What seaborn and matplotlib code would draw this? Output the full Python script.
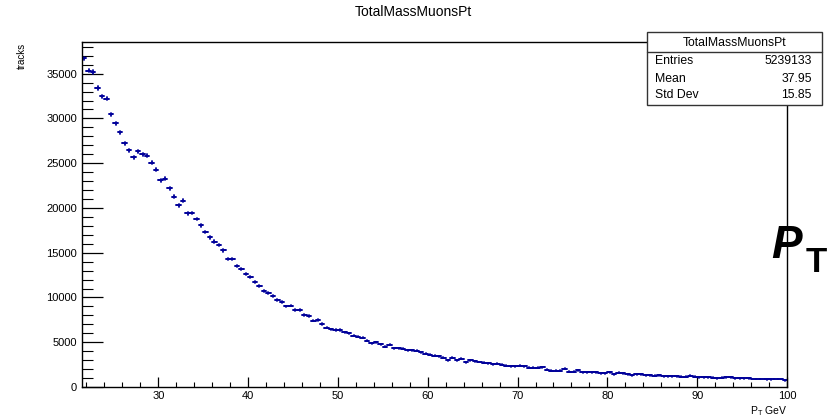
import numpy as np
import pandas as pd
import matplotlib
matplotlib.use("Agg")
import matplotlib.pyplot as plt
from matplotlib.patches import Rectangle
from matplotlib.lines import Line2D
from matplotlib.ticker import MultipleLocator
import seaborn as sns

# ---------------- data ----------------
title = "TotalMassMuonsPt"
bin_low = 21.5
bin_width = 0.5
counts = [
    36700, 35350, 35200, 33400, 32450, 32200, 30450, 29450, 28450, 27200,
    26450, 25650, 26350, 26000, 25850, 25050, 24250, 23100, 23250, 22200,
    21250, 20300, 20800, 19400, 19450, 18750, 18050, 17300, 16700, 16250,
    15900, 15250, 14250, 14300, 13500, 13200, 12600, 12300, 11750, 11250,
    10750, 10500, 10150, 9750, 9500, 9000, 9100, 8580, 8620, 8010,
    7950, 7420, 7500, 7010, 6640, 6450, 6380, 6380, 6120, 6000,
    5750, 5640, 5520, 5190, 4860, 5000, 4780, 4520, 4740, 4330,
    4330, 4260, 4110, 4110, 4040, 3880, 3700, 3590, 3510, 3440,
    3260, 2990, 3260, 2990, 3180, 2770, 2990, 2900, 2790, 2710,
    2640, 2560, 2620, 2510, 2400, 2290, 2290, 2400, 2290, 2140,
    2140, 2140, 2210, 1950, 1840, 1840, 1840, 2030, 1730, 1730,
    1880, 1650, 1650, 1650, 1650, 1510, 1510, 1650, 1400, 1590,
    1510, 1400, 1320, 1400, 1400, 1320, 1320, 1250, 1320, 1200,
    1200, 1200, 1200, 1140, 1140, 1250, 1140, 1090, 1090, 1090,
    1030, 950, 1060, 1090, 1090, 950, 950, 950, 950, 870,
    870, 870, 840, 840, 910, 900, 730,
]
stats_labels = ["Entries", "Mean", "Std Dev"]
stats_values = ["5239133", "37.95", "15.85"]
x_max = 100
y_label = "tracks"
x_label = r"P$_{\mathrm{T}}$ GeV"

# ---------------- style ----------------
sns.set_theme(style="white")
plt.rcParams["font.family"] = ["Liberation Sans", "DejaVu Sans"]
plt.rcParams["text.color"] = "black"
plt.rcParams["mathtext.fontset"] = "custom"
plt.rcParams["mathtext.rm"] = "Liberation Sans"
plt.rcParams["mathtext.it"] = "Liberation Sans:italic"
plt.rcParams["mathtext.bf"] = "Liberation Sans:bold"

W, H = 827, 419
fig = plt.figure(figsize=(W / 100, H / 100), dpi=100)
fig.patch.set_facecolor("white")

L, R, T, B = 82, 787, 42, 387
ax = fig.add_axes([L / W, (H - B) / H, (R - L) / W, (B - T) / H])
ax.set_facecolor("white")

color = "#00009a"
counts_arr = np.array(counts, dtype=float)
n = len(counts_arr)
lo = bin_low + bin_width * np.arange(n)
hi = lo + bin_width
ctr = lo + bin_width / 2
err = np.sqrt(counts_arr)

df_h = pd.DataFrame({
    "x": np.column_stack([lo, hi]).ravel(),
    "y": np.repeat(counts_arr, 2),
    "bin": np.repeat(np.arange(n), 2),
})
df_v = pd.DataFrame({
    "x": np.repeat(ctr, 2),
    "y": np.column_stack([counts_arr - err, counts_arr + err]).ravel(),
    "bin": np.repeat(np.arange(n), 2),
})
sns.lineplot(data=df_h, x="x", y="y", units="bin", estimator=None, sort=False,
             color=color, lw=1.4, ax=ax, legend=False)
sns.lineplot(data=df_v, x="x", y="y", units="bin", estimator=None, sort=False,
             color=color, lw=1.3, ax=ax, legend=False)

ax.set_xlim(bin_low, x_max)
ax.set_ylim(0, 1.05 * counts_arr.max())
ax.set_xlabel("")
ax.set_ylabel("")

for s in ax.spines.values():
    s.set_color("black")
    s.set_linewidth(1.0)

ax.xaxis.set_major_locator(MultipleLocator(10))
ax.xaxis.set_minor_locator(MultipleLocator(2))
ax.yaxis.set_major_locator(MultipleLocator(5000))
ax.yaxis.set_minor_locator(MultipleLocator(1000))
ax.tick_params(axis="x", which="major", direction="in", length=7.2, width=0.9,
               labelsize=8, pad=3, colors="black", bottom=True, top=False)
ax.tick_params(axis="x", which="minor", direction="in", length=3.6, width=0.8,
               bottom=True, top=False, colors="black")
ax.tick_params(axis="y", which="major", direction="in", length=15, width=0.9,
               labelsize=8, pad=3.5, colors="black", left=True, right=False)
ax.tick_params(axis="y", which="minor", direction="in", length=8, width=0.8,
               left=True, right=False, colors="black")

# ---------------- texts ----------------
def fx(px):
    return px / W

def fy(py):
    return 1 - py / H

fig.text(0.5, fy(12), title, ha="center", va="center", fontsize=10, color="black")
fig.text(fx(22), fy(43), y_label, rotation=90, ha="center", va="top", fontsize=7,
         color="black")
fig.text(fx(787), fy(411), x_label, ha="right", va="center", fontsize=7.5, color="black")

fig.text(fx(771), fy(258), "P", fontsize=33, fontweight="bold", fontstyle="italic",
         ha="left", va="baseline", zorder=10, color="black")
fig.text(fx(806), fy(272), "T", fontsize=25, fontweight="bold",
         ha="left", va="baseline", zorder=10, color="black")

# stats box
bx0, by0, bx1, by1 = 647, 32, 822, 105
box = Rectangle((fx(bx0), fy(by1)), (bx1 - bx0) / W, (by1 - by0) / H,
                transform=fig.transFigure, facecolor="white", edgecolor="#333333",
                linewidth=1.0, zorder=20)
fig.add_artist(box)
fig.add_artist(Line2D([fx(bx0), fx(bx1)], [fy(52), fy(52)], transform=fig.transFigure,
                      color="#333333", lw=1.0, zorder=21))
fig.text(fx((bx0 + bx1) / 2), fy(42.5), title, ha="center", va="center",
         fontsize=8.8, zorder=22, color="black")
rows_y = [61, 79, 95.5]
for lab, val, yy in zip(stats_labels, stats_values, rows_y):
    fig.text(fx(655), fy(yy), lab, ha="left", va="center", fontsize=8.8, zorder=22,
             color="black")
    fig.text(fx(812), fy(yy), val, ha="right", va="center", fontsize=8.8, zorder=22,
             color="black")

fig.savefig("out.png", dpi=100, facecolor="white")
